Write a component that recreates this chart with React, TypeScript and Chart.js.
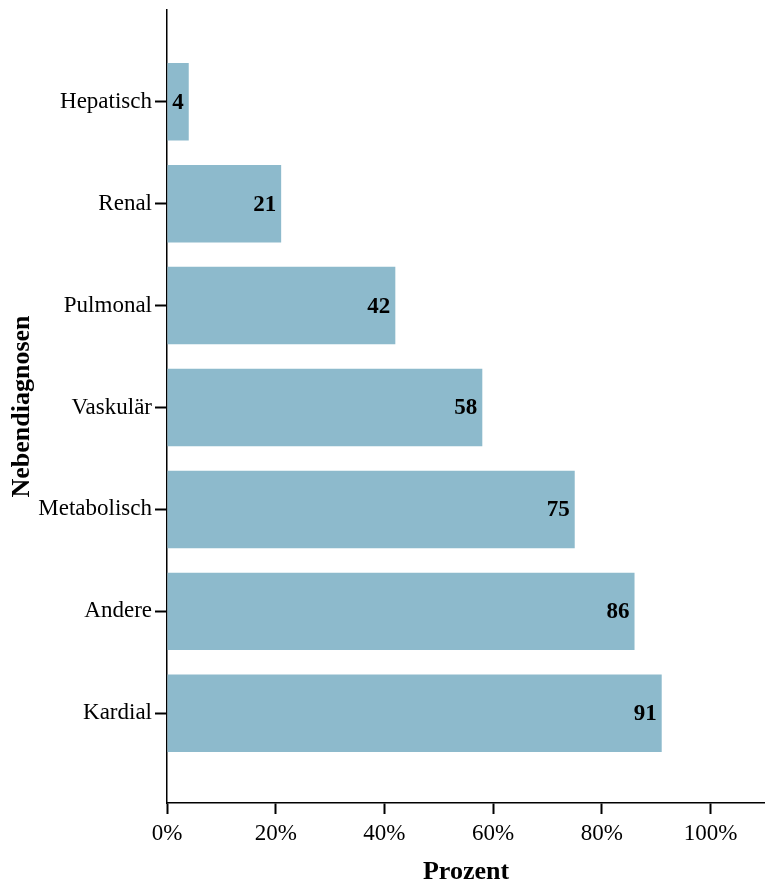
import React, { useEffect, useRef } from "react";
import { Chart, registerables } from "chart.js";

Chart.register(...registerables);

// Nebendiagnosen (top to bottom) and their share in percent
const categories = ["Hepatisch", "Renal", "Pulmonal", "Vaskulär", "Metabolisch", "Andere", "Kardial"];
const values = [4, 21, 42, 58, 75, 86, 91];
const xTicks = [0, 20, 40, 60, 80, 100];

const FONT = "'Liberation Serif', 'Times New Roman', serif";
const BAR_COLOR = "#8dbacc";

const valueLabels = {
  id: "valueLabels",
  afterDatasetsDraw(chart: any) {
    const ctx = chart.ctx;
    const meta = chart.getDatasetMeta(0);
    ctx.save();
    ctx.font = `bold 23px ${FONT}`;
    ctx.fillStyle = "#000";
    ctx.textAlign = "right";
    ctx.textBaseline = "middle";
    meta.data.forEach((el: any, i: number) => {
      ctx.fillText(String(values[i]), el.x - 5, el.y + 1);
    });
    ctx.restore();
  },
};

export default function App() {
  const ref = useRef<HTMLCanvasElement>(null);

  useEffect(() => {
    if (!ref.current) return;
    const chart = new Chart(ref.current, {
      type: "bar",
      data: {
        datasets: [
          {
            data: values.map((v, i) => ({ x: v, y: i + 1 })),
            backgroundColor: BAR_COLOR,
            borderWidth: 0,
            barPercentage: 0.76,
            categoryPercentage: 1,
          },
        ],
      },
      options: {
        indexAxis: "y",
        responsive: false,
        animation: false,
        layout: { padding: { top: 10, right: 0, bottom: 0, left: 0 } },
        plugins: { legend: { display: false }, tooltip: { enabled: false } },
        scales: {
          x: {
            type: "linear",
            min: 0,
            max: 110,
            afterBuildTicks: (scale: any) => {
              scale.ticks = xTicks.map((v) => ({ value: v }));
            },
            afterFit: (scale: any) => {
              scale.height = 82;
              scale.paddingLeft = 0;
              scale.paddingRight = 0;
            },
            ticks: {
              color: "#000",
              font: { family: FONT, size: 23 },
              padding: 6,
              maxRotation: 0,
              callback: (v: any) => `${v}%`,
            },
            grid: {
              drawOnChartArea: false,
              drawTicks: true,
              tickLength: 11,
              tickColor: "#000",
              tickWidth: 2,
            },
            border: { display: true, color: "#000", width: 1.5 },
            title: {
              display: true,
              text: "Prozent",
              color: "#000",
              font: { family: FONT, size: 26, weight: "bold", lineHeight: 1 },
              padding: { top: 0, bottom: 0 },
            },
          },
          y: {
            type: "linear",
            reverse: true,
            offset: false,
            min: 0.1,
            max: 7.88,
            afterBuildTicks: (scale: any) => {
              scale.ticks = categories.map((_, i) => ({ value: i + 1 }));
            },
            afterFit: (scale: any) => {
              scale.width = 167;
              scale.paddingTop = 0;
              scale.paddingBottom = 0;
            },
            ticks: {
              color: "#000",
              font: { family: FONT, size: 23 },
              padding: 3,
              callback: (v: any) => categories[Math.round(v) - 1] ?? "",
            },
            grid: {
              offset: false,
              drawOnChartArea: false,
              drawTicks: true,
              tickLength: 12,
              tickColor: "#000",
              tickWidth: 2,
            },
            border: { display: true, color: "#000", width: 1.5 },
            title: {
              display: true,
              text: "Nebendiagnosen",
              color: "#000",
              font: { family: FONT, size: 26, weight: "bold", lineHeight: 1 },
              padding: { top: 9, bottom: 0 },
            },
          },
        },
      },
      plugins: [valueLabels],
    } as any);
    return () => chart.destroy();
  }, []);

  return (
    <div style={{ position: "absolute", left: 0, top: 0, width: 765, height: 885, background: "#fff" }}>
      <canvas ref={ref} width={765} height={885} style={{ display: "block" }} />
    </div>
  );
}
